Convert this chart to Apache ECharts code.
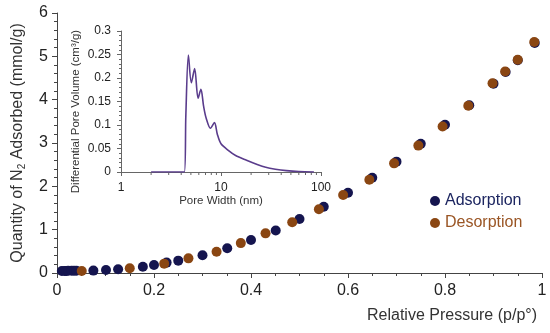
<!DOCTYPE html>
<html>
<head>
<meta charset="utf-8">
<script src="https://cdn.jsdelivr.net/npm/echarts@6/dist/echarts.min.js"></script>
<style>html,body{margin:0;padding:0;background:#fff}#c{width:550px;height:333px}</style>
</head>
<body>
<div id="c"></div>
<script>
// Isotherm data (relative pressure, quantity adsorbed mmol/g)
var adsX = [0.010, 0.016, 0.019, 0.023, 0.030, 0.035, 0.040, 0.075, 0.101, 0.126, 0.177, 0.200, 0.226, 0.250, 0.300, 0.351, 0.400, 0.451, 0.500, 0.550, 0.600, 0.650, 0.700, 0.750, 0.800, 0.850, 0.900, 0.925, 0.950, 0.985];
var adsY = [0.046, 0.048, 0.049, 0.050, 0.050, 0.051, 0.052, 0.055, 0.068, 0.085, 0.146, 0.185, 0.240, 0.285, 0.410, 0.570, 0.760, 0.980, 1.245, 1.530, 1.850, 2.200, 2.570, 2.980, 3.420, 3.870, 4.370, 4.640, 4.910, 5.310];
var desX = [0.051, 0.150, 0.221, 0.271, 0.329, 0.379, 0.430, 0.485, 0.540, 0.590, 0.644, 0.695, 0.745, 0.795, 0.848, 0.898, 0.924, 0.950, 0.984];
var desY = [0.046, 0.108, 0.216, 0.338, 0.490, 0.690, 0.915, 1.170, 1.470, 1.800, 2.150, 2.530, 2.940, 3.380, 3.860, 4.380, 4.650, 4.920, 5.330];
// Inset pore size distribution (pore width nm, differential pore volume cm3/g)
var poreW = [2.0, 4.3, 4.45, 4.72, 5.05, 5.45, 5.9, 6.3, 6.7, 7.1, 7.85, 8.6, 9.2, 10, 12, 14, 18, 23, 28, 35, 45, 60, 85];
var poreV = [0, 0, 0.12, 0.249, 0.19, 0.22, 0.157, 0.176, 0.14, 0.115, 0.093, 0.105, 0.08, 0.06, 0.045, 0.035, 0.025, 0.016, 0.010, 0.006, 0.003, 0.001, 0];
var logMinorTicks = [2, 3, 4, 5, 6, 7, 8, 9, 20, 30, 40, 50, 60, 70, 80, 90];

var NAVY = '#15154f', BROWN = '#8a4612', PURPLE = '#5a3c8c';
var FONT = 'Liberation Sans';

function zip(a, b) { return a.map(function (v, i) { return [v, b[i]]; }); }

var chart = echarts.init(document.getElementById('c'));
chart.setOption({
  animation: false,
  textStyle: { fontFamily: FONT },
  grid: [
    { left: 57, right: 8, top: 13, bottom: 60, containLabel: false, outerBoundsMode: 'none' },
    { left: 121, right: 229, top: 31, bottom: 161, containLabel: false, outerBoundsMode: 'none' }
  ],
  legend: {
    orient: 'vertical', left: 425, top: 188, itemGap: 6,
    itemWidth: 10, itemHeight: 10, icon: 'circle',
    textStyle: { fontSize: 16, fontFamily: FONT },
    data: [
      { name: 'Adsorption', textStyle: { color: '#1c2560' } },
      { name: 'Desorption', textStyle: { color: '#9a5524' } }
    ]
  },
  xAxis: [
    {
      gridIndex: 0, type: 'value', min: 0, max: 1, interval: 0.2,
      name: 'Relative Pressure (p/p°)', nameLocation: 'end', nameGap: -5,
      nameTextStyle: { fontSize: 16, color: '#333', align: 'right', verticalAlign: 'top', padding: [35, 0, 0, 0] },
      axisLine: { lineStyle: { color: '#444' } },
      axisTick: { length: 5, lineStyle: { color: '#444' } },
      minorTick: { show: true, splitNumber: 4, length: 3, lineStyle: { color: '#444' } },
      splitLine: { show: false },
      axisLabel: { fontSize: 16, color: '#222', margin: 10, formatter: function (v) { return String(+v.toFixed(1)); } }
    },
    {
      gridIndex: 1, type: 'log', logBase: 10, min: 1, max: 100,
      name: 'Pore Width (nm)', nameLocation: 'middle', nameGap: 23,
      nameTextStyle: { fontSize: 11.5, color: '#333' },
      axisLine: { lineStyle: { color: '#666' } },
      axisTick: { length: 4, lineStyle: { color: '#666' } },
      minorTick: { show: false },
      splitLine: { show: false },
      axisLabel: { fontSize: 12, color: '#222', margin: 10 }
    }
  ],
  yAxis: [
    {
      gridIndex: 0, type: 'value', min: 0, max: 6, interval: 1,
      name: 'Quantity of N{sub|2} Adsorbed (mmol/g)', nameLocation: 'middle', nameGap: 30, nameRotate: 90,
      nameTextStyle: { fontSize: 16, color: '#333', rich: { sub: { fontSize: 10, color: '#333', verticalAlign: 'bottom', padding: [8, 0, 0, 0] } } },
      axisLine: { show: true, lineStyle: { color: '#444' } },
      axisTick: { show: true, length: 5, lineStyle: { color: '#444' } },
      minorTick: { show: true, splitNumber: 5, length: 3, lineStyle: { color: '#444' } },
      splitLine: { show: false },
      axisLabel: { fontSize: 16, color: '#222', margin: 9 }
    },
    {
      gridIndex: 1, type: 'value', min: 0, max: 0.3, interval: 0.05,
      name: 'Differential Pore Volume (cm³/g)', nameLocation: 'middle', nameGap: 39, nameRotate: 90,
      nameTextStyle: { fontSize: 11.5, color: '#333', padding: [0, 20, 0, 0] },
      axisLine: { show: true, lineStyle: { color: '#666' } },
      axisTick: { show: true, length: 4, lineStyle: { color: '#666' } },
      minorTick: { show: true, splitNumber: 5, length: 2, lineStyle: { color: '#666' } },
      splitLine: { show: false },
      axisLabel: { fontSize: 12, color: '#222', margin: 10, formatter: function (v) { return String(+v.toFixed(2)); } }
    }
  ],
  series: [
    {
      name: 'Adsorption', type: 'scatter', xAxisIndex: 0, yAxisIndex: 0,
      symbolSize: 10, itemStyle: { color: NAVY, opacity: 1 }, data: zip(adsX, adsY), z: 2
    },
    {
      name: 'Desorption', type: 'scatter', xAxisIndex: 0, yAxisIndex: 0,
      symbolSize: 10, itemStyle: { color: BROWN, opacity: 1 }, data: zip(desX, desY), z: 3
    },
    {
      name: 'PSD', type: 'line', xAxisIndex: 1, yAxisIndex: 1,
      showSymbol: false, smooth: 0.3, lineStyle: { color: PURPLE, width: 1.6 }, data: zip(poreW, poreV), z: 4
    },
    {
      name: 'logMinor', type: 'custom', xAxisIndex: 1, yAxisIndex: 1, silent: true, clip: false,
      data: logMinorTicks.map(function (v) { return [v, 0]; }),
      renderItem: function (params, api) {
        var p = api.coord([api.value(0), 0]);
        return { type: 'line', shape: { x1: p[0], y1: p[1], x2: p[0], y2: p[1] + 3 }, style: { stroke: '#666', lineWidth: 1 } };
      }
    }
  ]
});
</script>
</body>
</html>
